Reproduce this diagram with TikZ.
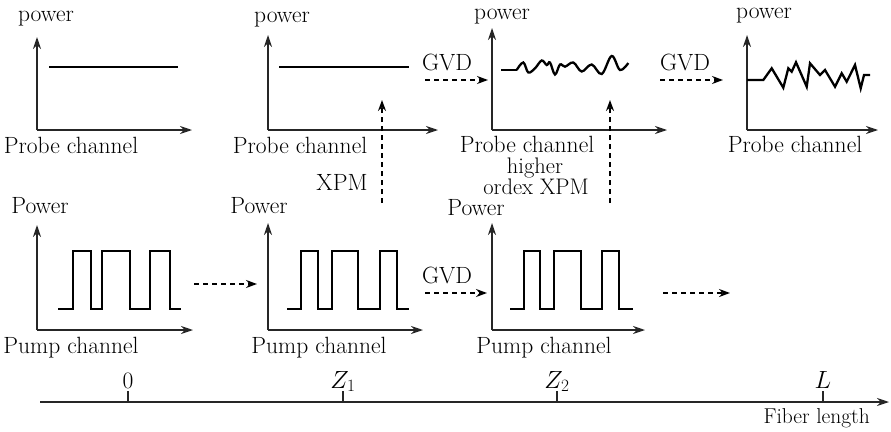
\documentclass[tikz,border=0pt]{standalone}
\usetikzlibrary{arrows.meta}
\begin{document}
\begin{tikzpicture}[x=1pt,y=-1pt,
  lbl/.style={font=\fontsize{23.5}{26}\selectfont, inner sep=0pt, anchor=base},
  lblsm/.style={font=\fontsize{22.5}{25}\selectfont, inner sep=0pt, anchor=base},
  axisline/.style={line width=1.3pt, draw=black!85, -{Stealth[length=12pt,width=8pt]}},
  sig/.style={line width=2.8pt, line join=miter},
  wave/.style={line width=2.3pt, line join=miter},
  pulse/.style={line width=2.3pt, line join=miter},
  dasharr/.style={line width=1.8pt, dash pattern=on 5pt off 4pt, -{Stealth[length=11pt,width=8pt]}},
  tick/.style={line width=1.2pt, draw=black!85},
]
\useasboundingbox (0,0) rectangle (891,431);

% ---------- axes coordinates ----------
\coordinate (o1) at (37,130);  \coordinate (y1) at (37,37);  \coordinate (x1) at (192,130);
\coordinate (o2) at (268,130); \coordinate (y2) at (268,35); \coordinate (x2) at (438,130);
\coordinate (o3) at (492,130); \coordinate (y3) at (492,28); \coordinate (x3) at (667,130);
\coordinate (o4) at (747,130); \coordinate (y4) at (747,35); \coordinate (x4) at (878,130);
\coordinate (o5) at (37,330);  \coordinate (y5) at (37,225); \coordinate (x5) at (193,330);
\coordinate (o6) at (268,330); \coordinate (y6) at (268,223);\coordinate (x6) at (423,330);
\coordinate (o7) at (492,330); \coordinate (y7) at (492,223);\coordinate (x7) at (645,330);

\foreach \i in {1,...,7}{
  \draw[axisline] (o\i) -- (y\i);
  \draw[axisline] (o\i) -- (x\i);
}

% ---------- labels ----------
\node[lbl] (pw1) at (46,21) {power};
\node[lbl] (pw2) at (282,22) {power};
\node[lbl] (pw3) at (502,19) {power};
\node[lbl] (pw4) at (764,18) {power};
\node[lbl] (pc1) at (71,153) {Probe channel};
\node[lbl] (pc2) at (300,153) {Probe channel};
\node[lbl] (pc3) at (527,152) {Probe channel};
\node[lbl] (pc4) at (795,152) {Probe channel};
\node[lblsm] (hi) at (535,173) {higher};
\node[lblsm] (ox) at (536,194) {ordex XPM};
\node[lbl] (xpm) at (342,190) {XPM};
\node[lbl] (g1) at (447,70) {GVD};
\node[lbl] (g2) at (685,70) {GVD};
\node[lbl] (g3) at (447,283) {GVD};
\node[lbl] (Pw5) at (40,213) {Power};
\node[lbl] (Pw6) at (259,213) {Power};
\node[lbl] (Pw7) at (476,215) {Power};
\node[lbl] (pu5) at (71,353) {Pump channel};
\node[lbl] (pu6) at (319,353) {Pump channel};
\node[lbl] (pu7) at (544,353) {Pump channel};

% ---------- probe signals ----------
\draw[sig] (49,67) -- (178,67);
\draw[sig] (279,67) -- (409,67);
\draw[wave] (501,70) -- (516.7,70);
\draw[wave] plot[smooth, tension=0.6] coordinates {(516.7,70) (523.3,62.5) (528.3,72.5) (535,68.3) (541.7,60.5) (546.7,65) (550,62.5) (555,74.5) (560,64.5) (565,66.7) (573.3,62.5) (581.7,71.5) (591.7,64.5) (601.7,74) (611.7,56) (620,70) (628.3,63)};
\draw[wave] (747,80) -- (763.3,80) -- (771.7,68.3) -- (783.3,87.7) -- (788.3,68.3) -- (791.7,71.7) -- (796,62.3) -- (806.7,86.7) -- (810,63.3) -- (820,75) -- (825,70) -- (835,86.7) -- (841.7,73.3) -- (846.7,81.7) -- (855,65) -- (860.7,88.3) -- (864,75) -- (870,75);

% ---------- pump pulses ----------
\draw[pulse] (58,309) -- (73,309) -- (73,251) -- (91,251) -- (91,309) -- (102,309) -- (102,251) -- (130,251) -- (130,309) -- (150,309) -- (150,251) -- (170,251) -- (170,309) -- (181,309);
\draw[pulse] (287,309) -- (301,309) -- (301,251) -- (318,251) -- (318,309) -- (332,309) -- (332,251) -- (358,251) -- (358,309) -- (380,309) -- (380,251) -- (397,251) -- (397,309) -- (409,309);
\draw[pulse] (510,309) -- (524,309) -- (524,251) -- (540,251) -- (540,309) -- (554,309) -- (554,251) -- (581,251) -- (581,309) -- (602,309) -- (602,251) -- (619,251) -- (619,309) -- (633,309);

% ---------- dashed arrows ----------
\coordinate (a1s) at (425,80);  \coordinate (a1e) at (488,80);
\coordinate (a2s) at (660,80);  \coordinate (a2e) at (723,80);
\coordinate (a3s) at (382,203); \coordinate (a3e) at (382,100);
\coordinate (a4s) at (610,203); \coordinate (a4e) at (610,100);
\coordinate (a5s) at (194,284); \coordinate (a5e) at (257,284);
\coordinate (a6s) at (425,293); \coordinate (a6e) at (487,293);
\coordinate (a7s) at (663,293); \coordinate (a7e) at (730,293);
\foreach \i in {1,...,7}{ \draw[dasharr] (a\i s) -- (a\i e); }

% ---------- fiber length axis ----------
\coordinate (fs) at (40,402); \coordinate (fe) at (889,402);
\draw[axisline, line width=1.2pt] (fs) -- (fe);
\foreach \x/\t/\n in {128/0/t0, 343/{$Z_1$}/t1, 557/{$Z_2$}/t2, 823/{$L$}/t3}{
  \coordinate (\n b) at (\x,402);
  \draw[tick] (\n b) -- ++(0,-11);
  \node[lbl] (\n) at (\x,388) {\t};
}
\node[font=\fontsize{21.5}{24}\selectfont, inner sep=0pt, anchor=base east] (fl) at (870,423) {Fiber length};
\end{tikzpicture}
\end{document}
